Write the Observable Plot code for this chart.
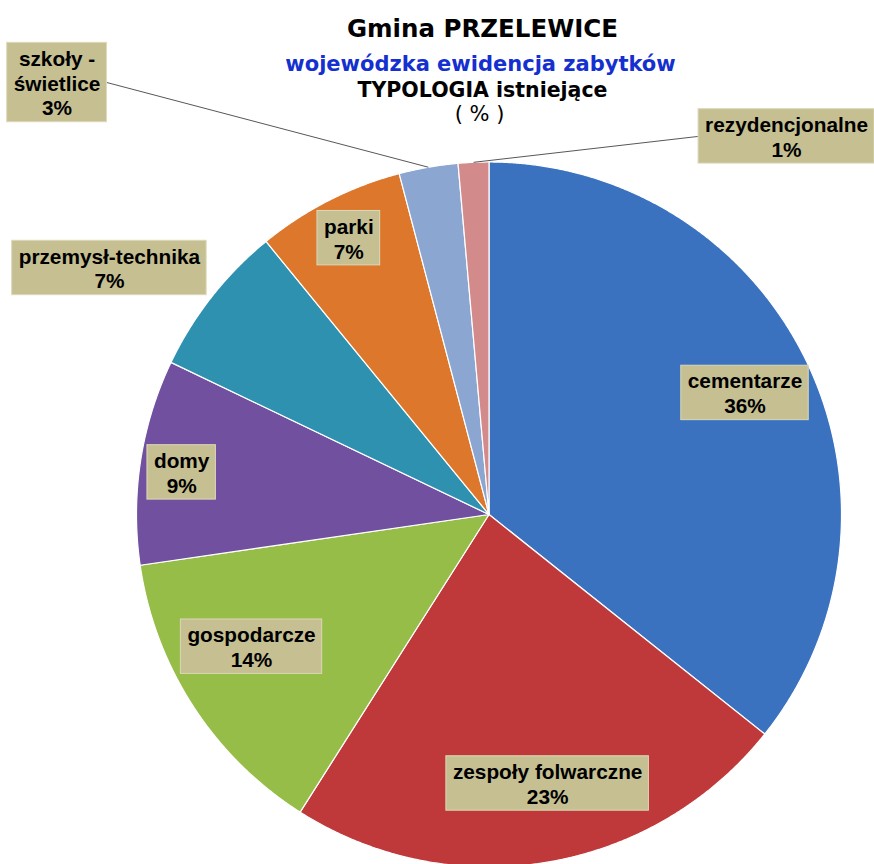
<!DOCTYPE html>
<html>
<head>
<meta charset="utf-8">
<script src="https://cdn.jsdelivr.net/npm/d3@7"></script>
<script src="https://cdn.jsdelivr.net/npm/@observablehq/plot@0.6"></script>
<style>
  html, body { margin: 0; padding: 0; background: #fff; }
  #chart svg { display: block; }
</style>
</head>
<body>
<div id="chart"></div>
<script>
// ---- data ----
const categories = ["cementarze", "zespoły folwarczne", "gospodarcze", "domy", "przemysł-technika", "parki", "szkoły - świetlice", "rezydencjonalne"];
const labelNames = ["cementarze", "zespoły folwarczne", "gospodarcze", "domy", "przemysł-technika", "parki", "szkoły -\nświetlice", "rezydencjonalne"];
const values = [35.7, 23.3, 13.7, 9.4, 7.0, 6.8, 2.7, 1.4];
const colors = ["#3a72c0", "#c0393a", "#96bd47", "#7150a0", "#2e91b0", "#dc772c", "#8ca6d2", "#d38a8a"];
const titleLines = ["Gmina PRZELEWICE", "wojewódzka ewidencja zabytków", "TYPOLOGIA istniejące", "( % )"];

// ---- layout (not data) ----
const W = 874, H = 864;
const cx = 488.5, cy = 514, R = 352.5;
// label placement: radius (in pie radii) and angle (deg, clockwise from top)
const labelLayout = [
  {r: 0.804, a: 64.6},
  {r: 0.781, a: 167.7},
  {r: 0.771, a: 240.9},
  {r: 0.880, a: 277.8},
  {r: 1.284, a: 303.0, leader: false},
  {r: 0.879, a: 333.1},
  {r: 1.733, a: 315.0, leader: true},
  {r: 1.365, a: 38.2, leader: true}
];
const labelFontSize = 20.8, lineH = 1.2, padX = 6.5, padY = 4.5;
const labelFont = "bold " + labelFontSize + "px 'Liberation Sans', Arial, sans-serif";

const px2x = px => (px - cx) / R;
const px2y = py => (cy - py) / R;

// ---- build pie geometry ----
const rows = categories.map((c, i) => ({cat: c, value: values[i], i}));
const total = d3.sum(values);
const arcs = d3.pie().sort(null).value(d => d.value)(rows);

const slicePts = [];
for (const a of arcs) {
  const cat = a.data.cat;
  slicePts.push({cat, x: 0, y: 0});
  const n = Math.max(2, Math.ceil((a.endAngle - a.startAngle) / (Math.PI / 720)));
  for (let j = 0; j <= n; j++) {
    const t = a.startAngle + (a.endAngle - a.startAngle) * j / n;
    slicePts.push({cat, x: Math.sin(t), y: Math.cos(t)});
  }
  slicePts.push({cat, x: 0, y: 0});
}

// ---- labels ----
const ctx = document.createElement("canvas").getContext("2d");
ctx.font = labelFont;
const labels = arcs.map((a, i) => {
  const L = labelLayout[i];
  const ang = (L.a ?? ((a.startAngle + a.endAngle) / 2 * 180 / Math.PI)) * Math.PI / 180;
  const x = L.r * Math.sin(ang), y = L.r * Math.cos(ang);
  const pct = Math.round(a.data.value / total * 100) + "%";
  const text = labelNames[i] + "\n" + pct;
  const lines = text.split("\n");
  const w = d3.max(lines, s => ctx.measureText(s).width) + 2 * padX;
  const h = lines.length * labelFontSize * lineH + padY;
  const mid = (a.startAngle + a.endAngle) / 2;
  return {
    text, x, y,
    x1: x - w / 2 / R, x2: x + w / 2 / R,
    y1: y - h / 2 / R, y2: y + h / 2 / R,
    leader: L.leader, mid
  };
});
const leaders = labels.filter(d => d.leader).map(d => {
  const ex = Math.sin(d.mid), ey = Math.cos(d.mid);
  const bx = ex > d.x ? d.x2 : d.x1;
  return {x1: ex, y1: ey, x2: bx, y2: d.y};
});

const titleRows = [
  {text: titleLines[0], x: px2x(482), y: px2y(29), size: 24.5, color: "#000", weight: "bold"},
  {text: titleLines[1], x: px2x(480), y: px2y(63.3), size: 21, color: "#1530d0", weight: "bold"},
  {text: titleLines[2], x: px2x(482), y: px2y(90.4), size: 20.5, color: "#000", weight: "bold"},
  {text: titleLines[3], x: px2x(479), y: px2y(113.5), size: 21, color: "#000", weight: "normal"}
];

const chart = Plot.plot({
  width: W, height: H,
  margin: 0,
  x: {domain: [-1, 1], range: [cx - R, cx + R], axis: null},
  y: {domain: [-1, 1], range: [cy + R, cy - R], axis: null},
  color: {domain: categories, range: colors},
  style: {background: "#fff", overflow: "hidden"},
  marks: [
    Plot.line(slicePts, {x: "x", y: "y", z: "cat", fill: "cat", stroke: "#fff", strokeWidth: 1.2, strokeLinejoin: "round"}),
    Plot.link(leaders, {x1: "x1", y1: "y1", x2: "x2", y2: "y2", stroke: "#444", strokeWidth: 0.9}),
    Plot.rect(labels, {x1: "x1", x2: "x2", y1: "y1", y2: "y2", fill: "#c5bf92", stroke: "#dcd8b8", strokeWidth: 1}),
    Plot.text(labels, {x: "x", y: "y", text: "text", fontSize: labelFontSize, fontWeight: "bold",
      fontFamily: "'Liberation Sans', Arial, sans-serif", lineHeight: lineH, fill: "#000"}),
    ...titleRows.map(t => Plot.text([t], {x: "x", y: "y", text: "text", fontSize: t.size, fontWeight: t.weight,
      fontFamily: "'DejaVu Sans', sans-serif", fill: t.color}))
  ]
});
document.getElementById("chart").appendChild(chart);
</script>
</body>
</html>
